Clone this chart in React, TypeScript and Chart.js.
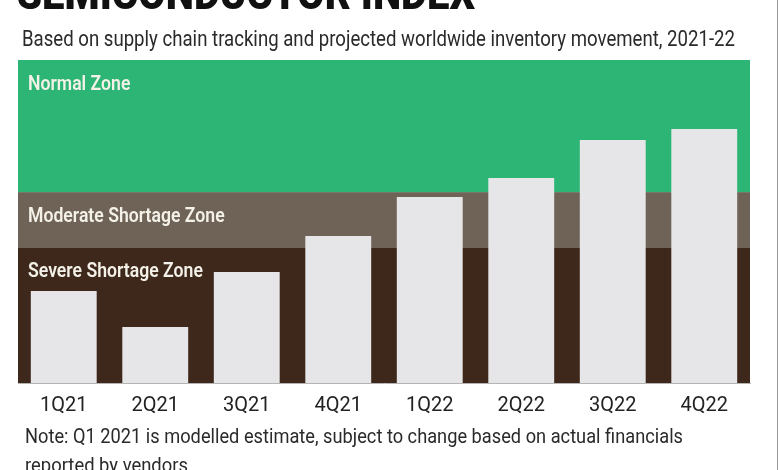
import React, { useEffect, useLayoutEffect, useRef } from "react";
import { Chart, registerables } from "chart.js";

Chart.register(...registerables);

const titleText = "SEMICONDUCTOR INDEX";
const subtitleText =
  "Based on supply chain tracking and projected worldwide inventory movement, 2021-22";
const noteLines = [
  "Note: Q1 2021 is modelled estimate, subject to change based on actual financials",
  "reported by vendors",
];

const categories = ["1Q21", "2Q21", "3Q21", "4Q21", "1Q22", "2Q22", "3Q22", "4Q22"];
const indexValues = [28.5, 17.3, 34.4, 45.5, 57.6, 63.5, 75.2, 78.6];

const zoneNames = ["Severe Shortage Zone", "Moderate Shortage Zone", "Normal Zone"];
const zoneFrom = [0, 41.8, 59.1];
const zoneTo = [41.8, 59.1, 100];
const zoneColors = ["#3e281b", "#6f6357", "#2cb574"];

function FitText(props: {
  text: string;
  left: number;
  top: number;
  width: number;
  style?: React.CSSProperties;
}) {
  const ref = useRef<HTMLSpanElement>(null);
  useLayoutEffect(() => {
    const el = ref.current;
    if (!el) return;
    el.style.transform = "none";
    const w = el.getBoundingClientRect().width;
    if (w > 0) el.style.transform = `scaleX(${props.width / w})`;
  }, [props.text, props.width]);
  return (
    <span
      ref={ref}
      style={{
        position: "absolute",
        left: props.left,
        top: props.top,
        whiteSpace: "nowrap",
        transformOrigin: "0 0",
        display: "inline-block",
        lineHeight: 1,
        ...props.style,
      }}
    >
      {props.text}
    </span>
  );
}

const zonesPlugin = {
  id: "zones",
  beforeDatasetsDraw(chart: any) {
    const { ctx, chartArea, scales } = chart;
    const y = scales.y;
    ctx.save();
    for (let i = 0; i < zoneNames.length; i++) {
      const top = y.getPixelForValue(zoneTo[i]);
      const bottom = y.getPixelForValue(zoneFrom[i]);
      ctx.fillStyle = zoneColors[i];
      ctx.fillRect(chartArea.left, top, chartArea.right - chartArea.left, bottom - top);
    }
    ctx.font = "600 21px Roboto";
    ctx.fillStyle = "#f4f1e8";
    ctx.textBaseline = "alphabetic";
    for (let i = 0; i < zoneNames.length; i++) {
      const top = y.getPixelForValue(zoneTo[i]);
      ctx.save();
      ctx.translate(chartArea.left + 10, top + 29.5);
      ctx.scale(0.84, 1);
      ctx.fillText(zoneNames[i], 0, 0);
      ctx.restore();
    }
    ctx.restore();
  },
};

export default function App() {
  const canvasRef = useRef<HTMLCanvasElement>(null);

  useEffect(() => {
    const canvas = canvasRef.current;
    if (!canvas) return;
    const chart = new Chart(canvas, {
      type: "bar",
      data: {
        labels: categories,
        datasets: [
          {
            label: "Semiconductor index",
            data: indexValues,
            backgroundColor: "#e6e6e8",
            borderWidth: 0,
            barPercentage: 0.72,
            categoryPercentage: 1,
          },
        ],
      },
      options: {
        responsive: false,
        animation: false,
        devicePixelRatio: 1,
        layout: { padding: { left: 18, right: 30, top: 60, bottom: 47 } },
        plugins: {
          legend: { display: false },
          tooltip: { enabled: false },
          title: { display: false },
        },
        scales: {
          x: {
            grid: { display: false, drawTicks: false },
            border: { display: true, color: "#b4b4b4", width: 1 },
            ticks: {
              color: "#222222",
              font: { family: "Roboto", size: 20 },
              padding: 11,
              maxRotation: 0,
            },
            afterFit: (s: any) => {
              s.height = 40;
            },
          },
          y: {
            display: false,
            min: 0,
            max: 100,
          },
        },
      },
      plugins: [zonesPlugin],
    });
    return () => chart.destroy();
  }, []);

  return (
    <div
      style={{
        position: "fixed",
        left: 0,
        top: 0,
        width: 780,
        height: 470,
        overflow: "hidden",
        background: "#ffffff",
        fontFamily: "Roboto",
      }}
    >
      <canvas
        ref={canvasRef}
        width={780}
        height={470}
        style={{ position: "absolute", left: 0, top: 0, width: 780, height: 470 }}
      />
      <FitText
        text={titleText}
        left={17}
        top={-29}
        width={458}
        style={{ fontSize: 45, fontWeight: 900, color: "#111111" }}
      />
      <FitText
        text={subtitleText}
        left={22}
        top={28}
        width={713}
        style={{ fontSize: 22, color: "#2a2a2a" }}
      />
      <FitText
        text={noteLines[0]}
        left={25}
        top={426}
        width={658}
        style={{ fontSize: 21, color: "#2a2a2a" }}
      />
      <FitText
        text={noteLines[1]}
        left={25}
        top={455}
        width={163}
        style={{ fontSize: 21, color: "#2a2a2a" }}
      />
      <div
        style={{
          position: "absolute",
          left: 777,
          top: 0,
          width: 1,
          height: 470,
          background: "#9a9a9a",
        }}
      />
    </div>
  );
}
